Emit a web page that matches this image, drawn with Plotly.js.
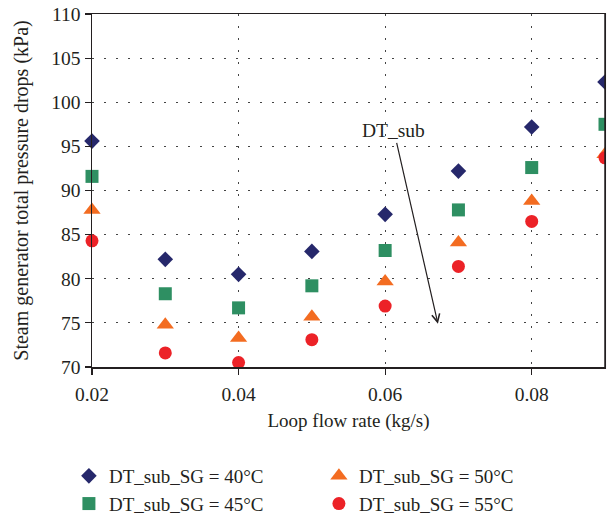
<!DOCTYPE html>
<html>
<head>
<meta charset="utf-8">
<script src="https://cdn.plot.ly/plotly-3.0.1.min.js"></script>
<style>html,body{margin:0;padding:0;background:#fff;}#chart{width:608px;height:516px;}</style>
</head>
<body>
<div id="chart"></div>
<script>
const flowRate = [0.02, 0.03, 0.04, 0.05, 0.06, 0.07, 0.08, 0.09];
const dp40 = [95.6, 82.2, 80.5, 83.1, 87.3, 92.2, 97.2, 102.3];
const dp45 = [91.6, 78.3, 76.7, 79.2, 83.2, 87.8, 92.6, 97.5];
const dp50 = [87.8, 74.8, 73.3, 75.7, 79.7, 84.1, 88.8, 94.1];
const dp55 = [84.3, 71.6, 70.5, 73.1, 76.9, 81.4, 86.5, 93.7];
const seriesNames = ["DT_sub_SG = 40°C", "DT_sub_SG = 45°C", "DT_sub_SG = 50°C", "DT_sub_SG = 55°C"];
const yTicks = [70, 75, 80, 85, 90, 95, 100, 105, 110];
const xTicks = [0.02, 0.04, 0.06, 0.08];
const xTickText = ["0.02", "0.04", "0.06", "0.08"];

const FONT = "Liberation Serif, Times New Roman, serif";

const traces = [
  {x: flowRate, y: dp40, name: seriesNames[0], legendrank: 1,
   marker: {symbol: "diamond", size: 12, color: "#26286b"}},
  {x: flowRate, y: dp45, name: seriesNames[1], legendrank: 3,
   marker: {symbol: "square", size: 13, color: "#2e8f62"}},
  {x: flowRate, y: dp50, name: seriesNames[2], legendrank: 2,
   marker: {symbol: "triangle-up", size: 15, color: "#f36c21"}},
  {x: flowRate, y: dp55, name: seriesNames[3], legendrank: 4,
   marker: {symbol: "circle", size: 13, color: "#ec2227"}}
].map(t => Object.assign(t, {type: "scatter", mode: "markers", cliponaxis: false}));

const layout = {
  width: 608, height: 516,
  margin: {l: 92, r: 3, t: 14, b: 149, autoexpand: false},
  paper_bgcolor: "#fff", plot_bgcolor: "#fff",
  font: {family: FONT, size: 19.5, color: "#231f20"},
  showlegend: true,
  legend: {orientation: "h", x: -0.045, xanchor: "left", y: -0.255, yanchor: "top",
           entrywidth: 205, entrywidthmode: "pixels", traceorder: "normal",
           font: {family: FONT, size: 19, color: "#231f20"}, itemwidth: 30, tracegroupgap: 0},
  xaxis: {
    range: [0.02, 0.09], tickvals: xTicks, ticktext: xTickText,
    showline: true, linecolor: "#231f20", linewidth: 1.5, mirror: true,
    ticks: "outside", ticklen: 6, tickcolor: "#231f20", tickwidth: 1.2,
    ticklabelstandoff: 3,
    showgrid: true, gridcolor: "#444", gridwidth: 1.2, griddash: "1.5px,10.5px",
    zeroline: false,
    title: {text: "Loop flow rate (kg/s)", font: {family: FONT, size: 19}, standoff: 10}
  },
  yaxis: {
    range: [70, 110], tickvals: yTicks,
    showline: true, linecolor: "#231f20", linewidth: 1.5, mirror: "ticks",
    ticks: "outside", ticklen: 6, tickcolor: "#231f20", tickwidth: 1.2,
    showgrid: true, gridcolor: "#444", gridwidth: 1.2, griddash: "1.5px,10.5px",
    zeroline: false,
    title: {text: "Steam generator total pressure drops (kPa)", font: {family: FONT, size: 20}, standoff: 17}
  },
  shapes: [
    {type: "rect", xref: "paper", yref: "paper", x0: 1.002, x1: 1.1, y0: -0.05, y1: 1.05,
     fillcolor: "#fff", line: {width: 0}, layer: "above"},
    {type: "line", xref: "paper", yref: "paper", x0: 1, x1: 1, y0: 0, y1: 1,
     line: {color: "#231f20", width: 1.5}, layer: "above"}
  ],
  annotations: [
    {x: 0.0672, y: 74.9, xref: "x", yref: "y", ax: 0.0612, ay: 96.75, axref: "x", ayref: "y",
     text: "DT_sub", showarrow: true, arrowhead: 5, arrowsize: 1.3, arrowwidth: 1.2,
     arrowcolor: "#231f20", font: {family: FONT, size: 19.5, color: "#231f20"}}
  ]
};

Plotly.newPlot("chart", traces, layout, {displayModeBar: false, staticPlot: true});
</script>
</body>
</html>
